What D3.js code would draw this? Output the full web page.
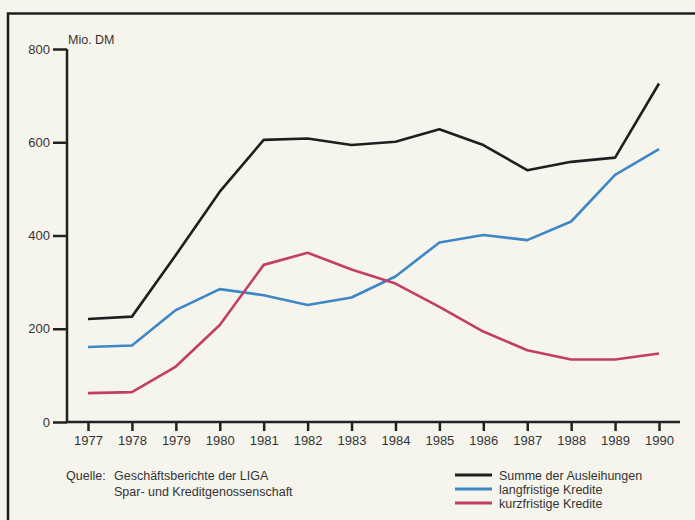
<!DOCTYPE html>
<html>
<head>
<meta charset="utf-8">
<script src="https://cdn.jsdelivr.net/npm/d3@7"></script>
<style>
  body { margin: 0; background: #f6f5ed; }
  svg { display: block; font-family: "Liberation Sans", Arial, sans-serif; }
  .axis path, .axis line { stroke: #222; stroke-width: 2.5; }
  .axis text { fill: #333; font-size: 13px; }
  .line { fill: none; stroke-width: 2.6; stroke-linejoin: round; }
  .note { fill: #333; font-size: 12.5px; }
</style>
</head>
<body>
<svg id="chart" width="695" height="520"></svg>
<script>
var years = [1977, 1978, 1979, 1980, 1981, 1982, 1983, 1984, 1985, 1986, 1987, 1988, 1989, 1990];
var summe = [221, 226, 358, 494, 605, 608, 594, 601, 628, 594, 540, 558, 567, 726];
var langfristig = [161, 164, 240, 285, 272, 251, 267, 312, 385, 401, 390, 430, 530, 585];
var kurzfristig = [62, 64, 119, 208, 337, 363, 327, 297, 247, 194, 154, 134, 134, 147];
var yTicks = [0, 200, 400, 600, 800];

var seriesNames = ['Summe der Ausleihungen', 'langfristige Kredite', 'kurzfristige Kredite'];
var seriesValues = [summe, langfristig, kurzfristig];
var colors = ['#1e1e1e', '#3d87c6', '#c23f62'];

var svg = d3.select('#chart');

// outer frame (the page is cut on the right and bottom)
svg.append('path')
  .attr('d', 'M8,530 L8,13.5 L700,13.5')
  .attr('fill', 'none')
  .attr('stroke', '#1e1e1e')
  .attr('stroke-width', 2.5);

var x = d3.scalePoint().domain(years).range([88, 659]);
var y = d3.scaleLinear().domain([0, 800]).range([422, 49]);

// axes
var yAxis = svg.append('g')
  .attr('class', 'axis')
  .attr('transform', 'translate(67,0)')
  .call(d3.axisLeft(y).tickValues(yTicks).tickSize(14).tickPadding(3));
yAxis.select('.domain').attr('d', 'M0,' + y(800) + 'V' + y(0));

var xAxis = svg.append('g')
  .attr('class', 'axis')
  .attr('transform', 'translate(0,' + y(0) + ')')
  .call(d3.axisBottom(x).tickSize(9).tickPadding(5).tickFormat(d3.format('d')));
xAxis.select('.domain').attr('d', 'M66,0H680');

svg.append('text')
  .attr('class', 'note')
  .attr('x', 68)
  .attr('y', 44)
  .text('Mio. DM');

// lines
var line = d3.line()
  .x(function(d, i) { return x(years[i]); })
  .y(function(d) { return y(d); });

svg.selectAll('.line')
  .data(seriesValues)
  .enter()
  .append('path')
  .attr('class', 'line')
  .attr('d', function(d) { return line(d); })
  .attr('stroke', function(d, i) { return colors[i]; });

// source note
svg.append('text').attr('class', 'note').attr('x', 66).attr('y', 480).text('Quelle:');
svg.append('text').attr('class', 'note').attr('x', 114).attr('y', 480).text('Geschäftsberichte der LIGA');
svg.append('text').attr('class', 'note').attr('x', 114).attr('y', 496).text('Spar- und Kreditgenossenschaft');

// legend
var legend = svg.selectAll('.legend')
  .data(seriesNames)
  .enter()
  .append('g')
  .attr('class', 'legend')
  .attr('transform', function(d, i) { return 'translate(455,' + (475 + i * 14) + ')'; });

legend.append('line')
  .attr('x1', 0).attr('x2', 37)
  .attr('stroke-width', 3)
  .attr('stroke', function(d, i) { return colors[i]; });

legend.append('text')
  .attr('class', 'note')
  .attr('x', 44)
  .attr('y', 4.5)
  .text(function(d) { return d; });
</script>
</body>
</html>
